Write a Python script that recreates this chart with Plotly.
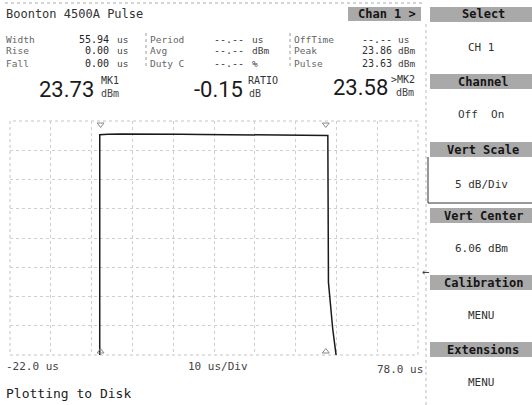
import plotly.graph_objects as go

W, H = 532, 405

# Pulse trace (time in microseconds, power in dBm)
time_us = [-22.0, -0.01, 0.0, 0.3, 2.0, 5.0, 10.0, 15.0, 20.0, 25.0, 30.0, 35.0,
           40.0, 45.0, 50.0, 53.0, 55.9, 56.05, 56.6, 57.1, 57.6, 58.0, 58.4, 60.0, 78.0]
power_dbm = [-30.0, -30.0, 23.73, 23.75, 23.80, 23.84, 23.86, 23.84, 23.80, 23.77,
             23.74, 23.71, 23.68, 23.65, 23.62, 23.60, 23.58, -1.5, -6.0, -9.5,
             -12.2, -13.8, -16.5, -30.0, -30.0]

# Display settings
x_start_us = -22.0
x_div_us = 10.0
n_xdiv = 10
vert_center_dbm = 6.06
vert_scale_db = 5.0
n_ydiv = 8

# Marker positions (us)
marker_times = [0.2, 55.4]

# Measurement table
col1_labels = ["Width", "Rise", "Fall"]
col1_values = ["55.94", "0.00", "0.00"]
col1_units = ["us", "us", "us"]
col2_labels = ["Period", "Avg", "Duty C"]
col2_values = ["--.--", "--.--", "--.--"]
col2_units = ["us", "dBm", "%"]
col3_labels = ["OffTime", "Peak", "Pulse"]
col3_values = ["--.--", "23.86", "23.63"]
col3_units = ["us", "dBm", "dBm"]

mk1_value = "23.73"
ratio_value = "-0.15"
mk2_value = "23.58"

menu_headers = ["Select", "Channel", "Vert Scale", "Vert Center", "Calibration", "Extensions"]
menu_values = ["CH 1", "Off  On", "5 dB/Div", "6.06 dBm", "MENU", "MENU"]

x_end_us = x_start_us + n_xdiv * x_div_us
y_lo = vert_center_dbm - vert_scale_db * n_ydiv / 2
y_hi = vert_center_dbm + vert_scale_db * n_ydiv / 2

MONO = "DejaVu Sans Mono"
BIG = "Roboto"


def px(x):
    return x / W


def py(y):
    return 1 - y / H


# plot area in pixels
PL, PR, PT, PB = 10, 418, 121, 355

fig = go.Figure()

fig.add_trace(go.Scatter(
    x=time_us, y=power_dbm, mode="lines",
    line=dict(color="#1a1a1a", width=1.5), hoverinfo="skip", showlegend=False))

# marker glyphs at top and bottom of the graticule
fig.add_trace(go.Scatter(
    x=marker_times, y=[y_hi - 0.6] * len(marker_times), mode="markers",
    marker=dict(symbol="triangle-down-open", size=6, color="#888", line=dict(width=1)),
    hoverinfo="skip", showlegend=False))
fig.add_trace(go.Scatter(
    x=marker_times, y=[y_lo + 0.6] * len(marker_times), mode="markers",
    marker=dict(symbol="triangle-up-open", size=6, color="#888", line=dict(width=1)),
    hoverinfo="skip", showlegend=False))

fig.update_layout(
    width=W, height=H, margin=dict(l=0, r=0, t=0, b=0),
    paper_bgcolor="white", plot_bgcolor="white",
    xaxis=dict(domain=[px(PL), px(PR)], range=[x_start_us, x_end_us],
               tick0=x_start_us, dtick=x_div_us, showticklabels=False, ticks="",
               showgrid=True, gridcolor="#cfcfcf", griddash="dot", gridwidth=1,
               zeroline=False, showline=False, fixedrange=True),
    yaxis=dict(domain=[py(PB), py(PT)], range=[y_lo, y_hi],
               tick0=y_lo, dtick=vert_scale_db, showticklabels=False, ticks="",
               showgrid=True, gridcolor="#cfcfcf", griddash="dot", gridwidth=1,
               zeroline=False, showline=False, fixedrange=True),
    showlegend=False,
)

shapes = []
# graticule border
shapes.append(dict(type="rect", xref="x domain", yref="y domain", x0=0, x1=1, y0=0, y1=1,
                   line=dict(color="#c4c4c4", width=1, dash="dot"), layer="below"))
# top dotted rule and panel divider
shapes.append(dict(type="line", xref="paper", yref="paper", x0=px(5), x1=px(425),
                   y0=py(3), y1=py(3), line=dict(color="#aaa", width=1, dash="dot")))
shapes.append(dict(type="line", xref="paper", yref="paper", x0=px(426), x1=px(426),
                   y0=py(24), y1=py(405), line=dict(color="#bbb", width=1, dash="dot")))
# column separators in measurement table
for sx in (146, 290):
    shapes.append(dict(type="line", xref="paper", yref="paper", x0=px(sx), x1=px(sx),
                       y0=py(33), y1=py(68), line=dict(color="#999", width=1, dash="dot")))

annotations = []


def text(x, y, s, size=12, color="#333", xanchor="left", font=MONO, bold=False):
    annotations.append(dict(
        x=px(x), y=py(y), xref="paper", yref="paper", text=f"<b>{s}</b>" if bold else s,
        showarrow=False, xanchor=xanchor, yanchor="middle", borderpad=0,
        font=dict(family=font, size=size, color=color)))


def header(x0, x1, y0, y1, label):
    shapes.append(dict(type="rect", xref="paper", yref="paper",
                       x0=px(x0), x1=px(x1), y0=py(y1), y1=py(y0),
                       fillcolor="#a9a9a9", line=dict(width=0)))
    text((x0 + x1) / 2 + 2, (y0 + y1) / 2, label, size=12, color="#151515",
         xanchor="center", bold=True)


text(5, 14, "Boonton 4500A Pulse", size=12, color="#333")
header(348, 421, 7, 21, "Chan 1 >")

# measurement table
rows_y = [39, 51, 63]
TS = 9.5
for i, y in enumerate(rows_y):
    text(5, y, col1_labels[i], size=TS, color="#666")
    text(110, y, col1_values[i], size=TS + 0.5, color="#222", xanchor="right")
    text(116, y, col1_units[i], size=TS, color="#444")
    text(149, y, col2_labels[i], size=TS, color="#666")
    text(245, y, col2_values[i], size=TS + 0.5, color="#444", xanchor="right")
    text(251, y, col2_units[i], size=TS, color="#444")
    text(293, y, col3_labels[i], size=TS, color="#666")
    text(393, y, col3_values[i], size=TS + 0.5, color="#333", xanchor="right")
    text(397, y, col3_units[i], size=TS, color="#444")

# big marker readouts
text(95, 89, mk1_value, size=22, color="#1a1a1a", xanchor="right", font=BIG)
text(100, 81, "MK1", size=10, color="#333")
text(100, 94, "dBm", size=10, color="#444")
text(244, 89, ratio_value, size=22, color="#1a1a1a", xanchor="right", font=BIG)
text(247, 80, "RATIO", size=10, color="#333")
text(248, 93, "dB", size=10, color="#444")
text(389, 88, mk2_value, size=22, color="#1a1a1a", xanchor="right", font=BIG)
text(390, 79, ">MK2", size=10, color="#333")
text(395, 92, "dBm", size=10, color="#444")

# time axis annotations
text(5, 366, f"{x_start_us:.1f} us", size=11, color="#444")
text(218, 366, f"{x_div_us:g} us/Div", size=11, color="#444", xanchor="center")
text(376, 369, f"{x_end_us:.1f} us", size=11, color="#444")

text(5, 393, "Plotting to Disk", size=13, color="#222")

# trigger arrow at right edge of graticule
text(421, 272, "\u2190", size=12, color="#444")

# right-hand soft key menu
header_y = [7, 74, 142, 208, 275, 342]
value_y = [48, 115, 184, 248, 315, 382]
for hy, vy, lab, val in zip(header_y, value_y, menu_headers, menu_values):
    header(430, 532, hy, hy + 15, lab)
    text(481, vy, val, size=11, color="#333", xanchor="center")

# boxed entry under Vert Scale
shapes.append(dict(type="line", xref="paper", yref="paper", x0=px(428), x1=px(428),
                   y0=py(157), y1=py(203), line=dict(color="#333", width=1)))
shapes.append(dict(type="line", xref="paper", yref="paper", x0=px(428), x1=px(532),
                   y0=py(203), y1=py(203), line=dict(color="#333", width=1)))

fig.update_layout(shapes=shapes, annotations=annotations)
fig.write_html("out.html")
